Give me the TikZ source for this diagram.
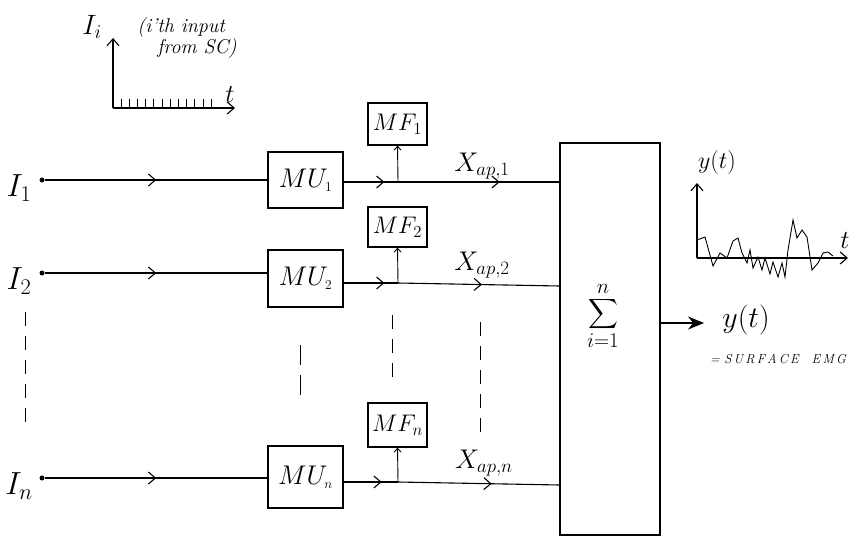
\RequirePackage{fix-cm}
\documentclass[tikz,border=0pt]{standalone}
\usepackage{exscale}
\usetikzlibrary{arrows.meta,decorations.markings}
\begin{document}
\begin{tikzpicture}[x=1pt,y=-1pt,line width=1.1pt,
  blk/.style={draw,minimum width=75pt,minimum height=56pt,inner sep=0pt,font=\fontsize{27}{32}\selectfont},
  mfblk/.style={draw,minimum width=59pt,minimum height=41pt,inner sep=0pt,font=\fontsize{24}{28}\selectfont},
  midarr/.style={postaction={decorate,decoration={markings,mark=at position #1 with {\arrow{Straight Barb[length=7pt,width=12pt]}}}}},
  uparr/.style={-{Straight Barb[length=4pt,width=7pt]},line width=0.9pt},
  dot/.style={circle,fill,inner sep=0pt,minimum size=5pt},
  inlab/.style={font=\fontsize{32}{36}\selectfont},
  xlab/.style={font=\fontsize{27}{30}\selectfont},
  dsh/.style={dashed,dash pattern=on 14pt off 10pt,line width=0.9pt},
  axarr/.style={-{Straight Barb[length=7pt,width=12pt]}}]
\useasboundingbox (0,0) rectangle (853,538);

% top-left input plot
\coordinate (o1) at (113,108);
\coordinate (y1) at (113,38);
\coordinate (x1) at (235,108);
\draw[axarr] (o1) -- (y1);
\draw[axarr] (o1) -- (x1);
\foreach \i in {0,...,11} \draw[line width=0.9pt] (121+\i*8.2,99) -- (121+\i*8.2,108);
\node[font=\fontsize{28}{32}\selectfont] (ii) at (92,27) {$I_i$};
\node[font=\fontsize{20}{20}\selectfont\itshape,align=left,inner sep=0pt] (ith) at (187,38) {(i'th input\\ \quad from SC)};
\node[font=\fontsize{26}{30}\selectfont] (tt) at (230,95) {$t$};

% inputs
\node[dot] (d1) at (42,180) {};
\node[dot] (d2) at (42,273) {};
\node[dot] (dn) at (42,478) {};
\node[inlab] (l1) at (19,188) {$I_{1}$};
\node[inlab] (l2) at (19,281) {$I_{2}$};
\node[inlab] (ln) at (19,486) {$I_{n}$};

% MU blocks
\node[blk] (mu1) at (305.5,180) {$MU_{\scriptscriptstyle 1}$};
\node[blk,minimum height=57pt] (mu2) at (305.5,278.5) {$MU_{\scriptscriptstyle 2}$};
\node[blk,minimum height=62pt] (mun) at (305.5,477) {$MU_{\scriptscriptstyle n}$};

% MF blocks
\node[mfblk,minimum height=42pt] (mf1) at (397.5,124) {$MF_1$};
\node[mfblk,minimum height=40pt] (mf2) at (397.5,227) {$MF_2$};
\node[mfblk,minimum height=44pt] (mfn) at (397.5,425) {$MF_n$};

% sum block
\node[draw,minimum width=100pt,minimum height=392pt,inner sep=0pt] (sum) at (610,339) {};
\node[font=\fontsize{21}{24}\selectfont,inner sep=0pt] (sig) at (603,316) {$\displaystyle\sum\limits_{\textstyle i{=}1}^{\textstyle n}$};

% branch points
\coordinate (b1) at (398,182);
\coordinate (b2) at (398,283);
\coordinate (bn) at (398,482);
\coordinate (s1) at (sum.west |- 0,182);
\coordinate (s2) at (sum.west |- 0,286);
\coordinate (sn) at (sum.west |- 0,485);

% row 1
\draw[midarr=0.5] (d1) -- (mu1.west |- d1);
\draw[midarr=0.75] (mu1.east |- b1) -- (b1);
\draw[midarr=0.63] (b1) -- (s1);
\draw[uparr] (b1) -- (mf1.south);
% row 2
\draw[midarr=0.5] (d2) -- (mu2.west |- d2);
\draw[midarr=0.75] (mu2.east |- b2) -- (b2);
\draw[midarr=0.52] (b2) -- (s2);
\draw[uparr] (b2) -- (mf2.south);
% row n
\draw[midarr=0.5] (dn) -- (mun.west |- dn);
\draw[midarr=0.7] (mun.east |- bn) -- (bn);
\draw[midarr=0.58] (bn) -- (sn);
\draw[uparr] (bn) -- (mfn.south);

% labels on lines
\node[xlab] (xa1) at (482,166) {$X_{ap,1}$};
\node[xlab] (xa2) at (482,265) {$X_{ap,2}$};
\node[xlab] (xan) at (484,463) {$X_{ap,n}$};

% dashed continuation lines
\coordinate (da) at (25,312); \coordinate (db) at (25,432);
\coordinate (dc) at (300,345); \coordinate (dd) at (300,400);
\coordinate (de) at (392,315); \coordinate (df) at (392,382);
\coordinate (dg) at (480,322); \coordinate (dh) at (480,432);
\draw[dsh] (da) -- (db);
\draw[dsh,dash pattern=on 20pt off 10pt] (dc) -- (dd);
\draw[dsh] (de) -- (df);
\draw[dsh] (dg) -- (dh);

% output
\coordinate (outend) at (704,323);
\draw[-{Stealth[length=16pt,width=13pt]}] (sum.east |- outend) -- (outend);
\node[font=\fontsize{30}{34}\selectfont] (yout) at (746,320) {$y(t)$};
\node[font=\fontsize{13}{15}\selectfont\itshape] (emg) at (778,359) {= S\,U\,R\,F\,A\,C\,E\quad E\,M\,G};

% right output plot
\coordinate (o2) at (697,258);
\coordinate (y2) at (697,183);
\coordinate (x2) at (848,258);
\draw[axarr] (o2) -- (y2);
\draw[axarr] (o2) -- (x2);
\draw[line width=0.9pt] (697,240) -- (705,237) -- (713,266) -- (720,253) -- (727,258) -- (733,241) -- (738,238) -- (742,253) -- (747,263) -- (750,250) -- (753,268) -- (758,257) -- (762,270) -- (765,258) -- (770,274) -- (773,262) -- (778,277) -- (782,263) -- (785,277) -- (788,250) -- (793,220) -- (797,238) -- (802,230) -- (807,237) -- (812,270) -- (818,263) -- (823,253) -- (828,252) -- (833,256);
\node[font=\fontsize{24}{28}\selectfont] (ylab) at (717,162) {$y(t)$};
\node[font=\fontsize{26}{30}\selectfont] (t2) at (845,240) {$t$};
\end{tikzpicture}
\end{document}
